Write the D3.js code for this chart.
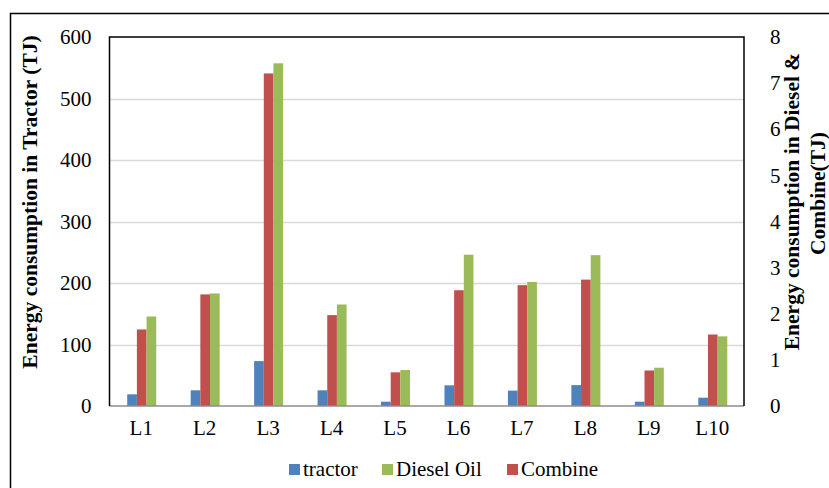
<!DOCTYPE html>
<html>
<head>
<meta charset="utf-8">
<script src="https://cdn.jsdelivr.net/npm/d3@7/dist/d3.min.js"></script>
<style>
  html, body { margin: 0; padding: 0; background: #fff; }
  svg { display: block; }
</style>
</head>
<body>
<svg id="chart" width="829" height="488"></svg>
<script>
// Energy consumption by location
const categories = ["L1", "L2", "L3", "L4", "L5", "L6", "L7", "L8", "L9", "L10"];
// tractor: left axis (TJ)
const tractor = [19, 25.5, 73, 25.5, 7, 33.6, 25, 34, 7, 13.5];
// diesel oil and combine: right axis (TJ)
const dieselOil = [1.94, 2.44, 7.43, 2.20, 0.78, 3.28, 2.69, 3.27, 0.83, 1.51];
const combine = [1.66, 2.42, 7.21, 1.97, 0.73, 2.51, 2.62, 2.74, 0.77, 1.55];
const leftTicks = [0, 100, 200, 300, 400, 500, 600];
const rightTicks = [0, 1, 2, 3, 4, 5, 6, 7, 8];

const colors = { "tractor": "#4f81bd", "Diesel Oil": "#9bbb59", "Combine": "#c0504d" };
const barOrder = ["tractor", "Combine", "Diesel Oil"];
const legendOrder = ["tractor", "Diesel Oil", "Combine"];

const FONT = "'Liberation Serif', 'Times New Roman', serif";
const svg = d3.select("#chart");
const plot = { left: 109.5, right: 744, top: 37, bottom: 406 };

// outer frame
svg.append("path")
  .attr("d", "M10.5,488 V13.5 H829")
  .attr("fill", "none").attr("stroke", "#000").attr("stroke-width", 1.5);

const x0 = d3.scaleBand().domain(categories)
  .range([plot.left, plot.right]).paddingInner(0.543).paddingOuter(0.2715);
const x1 = d3.scaleBand().domain(barOrder).range([0, x0.bandwidth()]);
const yL = d3.scaleLinear().domain([0, 600]).range([plot.bottom, plot.top]);
const yR = d3.scaleLinear().domain([0, 8]).range([plot.bottom, plot.top]);

// gridlines
svg.append("g").selectAll("line")
  .data(leftTicks.filter(t => t > 0 && t < 600))
  .join("line")
  .attr("x1", plot.left).attr("x2", plot.right)
  .attr("y1", d => Math.round(yL(d)) + 0.5).attr("y2", d => Math.round(yL(d)) + 0.5)
  .attr("stroke", "#d9d9d9").attr("stroke-width", 1.5);

// bars
const rows = categories.map((c, i) => ({
  cat: c,
  vals: [
    { key: "tractor", y: yL(tractor[i]) },
    { key: "Combine", y: yR(combine[i]) },
    { key: "Diesel Oil", y: yR(dieselOil[i]) }
  ]
}));
svg.append("g").selectAll("g")
  .data(rows).join("g")
  .attr("transform", d => `translate(${x0(d.cat) + 0.5},0)`)
  .selectAll("rect")
  .data(d => d.vals).join("rect")
  .attr("x", d => x1(d.key))
  .attr("width", x1.bandwidth())
  .attr("y", d => d.y)
  .attr("height", d => plot.bottom - d.y)
  .attr("fill", d => colors[d.key]);

// plot frame: bottom axis gray, others black
svg.append("line")
  .attr("x1", plot.left).attr("x2", plot.right)
  .attr("y1", plot.bottom).attr("y2", plot.bottom)
  .attr("stroke", "#8c8c8c").attr("stroke-width", 1.5);
svg.append("path")
  .attr("d", `M${plot.left},${plot.bottom} V${plot.top} H${plot.right} V${plot.bottom}`)
  .attr("fill", "none").attr("stroke", "#000").attr("stroke-width", 1.5);

function styleAxis(g) {
  g.attr("font-size", null).attr("font-family", null);
  g.select(".domain").remove();
  g.selectAll("text").attr("fill", "#000")
    .style("font-family", FONT).style("font-size", "21px");
}

// left axis labels
svg.append("g").attr("transform", `translate(${plot.left},0)`)
  .call(d3.axisLeft(yL).tickValues(leftTicks).tickSize(0).tickPadding(18))
  .call(styleAxis);

// right axis labels
svg.append("g").attr("transform", `translate(${plot.right},0)`)
  .call(d3.axisRight(yR).tickValues(rightTicks).tickSize(0).tickPadding(26))
  .call(styleAxis);

// category labels
svg.append("g").attr("transform", `translate(0,${plot.bottom})`)
  .call(d3.axisBottom(x0).tickSize(0).tickPadding(14))
  .call(styleAxis);

// axis titles
function title(x, y, txt) {
  svg.append("text")
    .attr("transform", `translate(${x},${y}) rotate(-90)`)
    .attr("text-anchor", "middle")
    .style("font-family", FONT).style("font-size", "21.5px").style("font-weight", "bold")
    .text(txt);
}
title(36.5, 202, "Energy consumption in Tractor (TJ)");
title(799, 201.5, "Energy consumption in Diesel &");
title(824.5, 193.5, "Combine(TJ)");

// legend
const legendX = { "tractor": 289, "Diesel Oil": 382, "Combine": 507 };
const lg = svg.append("g").selectAll("g").data(legendOrder).join("g")
  .attr("transform", d => `translate(${legendX[d]},464)`);
lg.append("rect").attr("width", 11).attr("height", 11).attr("fill", d => colors[d]);
lg.append("text").attr("x", 14).attr("y", 11.5)
  .style("font-family", FONT).style("font-size", "21px").text(d => d);
</script>
</body>
</html>
